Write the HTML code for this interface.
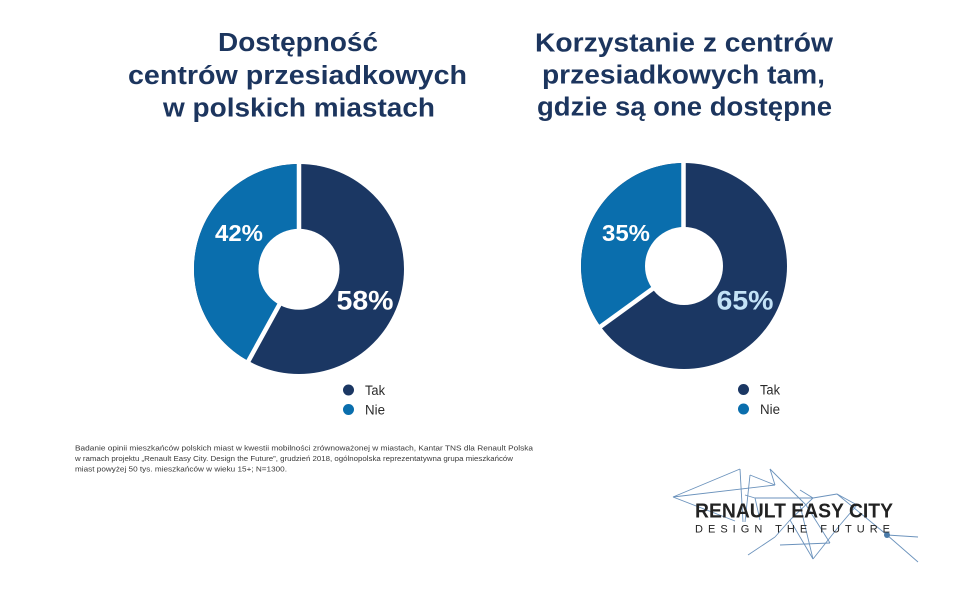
<!DOCTYPE html>
<html>
<head>
<meta charset="utf-8">
<style>
html,body{margin:0;padding:0;background:#ffffff;}
svg{display:block;}
text{font-family:"Liberation Sans","DejaVu Sans",sans-serif;}
</style>
</head>
<body>
<svg width="964" height="596" viewBox="0 0 964 596" xmlns="http://www.w3.org/2000/svg">
<rect width="964" height="596" fill="#ffffff"/>

<!-- Titles -->
<g fill="#1c355e" font-weight="bold" font-size="25.5" text-anchor="middle">
  <text x="298" y="51" textLength="160" lengthAdjust="spacingAndGlyphs">Dostępność</text>
  <text x="297.5" y="84" textLength="339" lengthAdjust="spacingAndGlyphs">centrów przesiadkowych</text>
  <text x="299" y="116.5" textLength="272" lengthAdjust="spacingAndGlyphs">w polskich miastach</text>

  <text x="684" y="51.5" textLength="298" lengthAdjust="spacingAndGlyphs">Korzystanie z centrów</text>
  <text x="683.5" y="83.5" textLength="283" lengthAdjust="spacingAndGlyphs">przesiadkowych tam,</text>
  <text x="684.5" y="115.5" textLength="295" lengthAdjust="spacingAndGlyphs">gdzie są one dostępne</text>
</g>

<!-- Donut 1 -->
<circle cx="299" cy="269" r="105" fill="#1b3763"/>
<path d="M299 269 L248.4 361.0 A105 105 0 0 1 299 164 Z" fill="#0a6ead"/>
<line x1="299" y1="269" x2="299" y2="160" stroke="#ffffff" stroke-width="4.5"/>
<line x1="299" y1="269" x2="246.5" y2="364.5" stroke="#ffffff" stroke-width="4.5"/>
<circle cx="299" cy="269.3" r="40.5" fill="#ffffff"/>
<text x="215" y="241" font-size="23" font-weight="bold" fill="#ffffff" textLength="48" lengthAdjust="spacingAndGlyphs">42%</text>
<text x="336.5" y="309.3" font-size="27" font-weight="bold" fill="#ffffff" textLength="57" lengthAdjust="spacingAndGlyphs">58%</text>

<!-- Donut 2 -->
<circle cx="684" cy="266" r="103" fill="#1b3763"/>
<path d="M684 266 L600.7 326.5 A103 103 0 0 1 684 163 Z" fill="#0a6ead"/>
<line x1="683.5" y1="266" x2="683.5" y2="159" stroke="#ffffff" stroke-width="4.5"/>
<line x1="684" y1="266" x2="597.5" y2="328.8" stroke="#ffffff" stroke-width="4.5"/>
<circle cx="684" cy="266" r="39" fill="#ffffff"/>
<text x="602" y="241" font-size="23" font-weight="bold" fill="#ffffff" textLength="48" lengthAdjust="spacingAndGlyphs">35%</text>
<text x="716.5" y="309.3" font-size="27" font-weight="bold" fill="#c3e2f6" textLength="57" lengthAdjust="spacingAndGlyphs">65%</text>

<!-- Legends -->
<circle cx="348.5" cy="390" r="5.5" fill="#1b3763"/>
<text x="365" y="395" font-size="13.5" fill="#2b2b2b" textLength="20" lengthAdjust="spacingAndGlyphs">Tak</text>
<circle cx="348.5" cy="409.5" r="5.5" fill="#0a6ead"/>
<text x="365" y="414.5" font-size="13.5" fill="#2b2b2b" textLength="20" lengthAdjust="spacingAndGlyphs">Nie</text>

<circle cx="743.5" cy="389.5" r="5.5" fill="#1b3763"/>
<text x="760" y="394.5" font-size="13.5" fill="#2b2b2b" textLength="20" lengthAdjust="spacingAndGlyphs">Tak</text>
<circle cx="743.5" cy="409" r="5.5" fill="#0a6ead"/>
<text x="760" y="414" font-size="13.5" fill="#2b2b2b" textLength="20" lengthAdjust="spacingAndGlyphs">Nie</text>

<!-- Footnote -->
<g font-size="7.6" fill="#3a3a3a">
  <text x="75" y="450.5" textLength="458" lengthAdjust="spacingAndGlyphs">Badanie opinii mieszkańców polskich miast w kwestii mobilności zrównoważonej w miastach, Kantar TNS dla Renault Polska</text>
  <text x="75" y="461" textLength="438" lengthAdjust="spacingAndGlyphs">w ramach projektu „Renault Easy City. Design the Future”, grudzień 2018, ogólnopolska reprezentatywna grupa mieszkańców</text>
  <text x="75" y="471.5" textLength="212" lengthAdjust="spacingAndGlyphs">miast powyżej 50 tys. mieszkańców w wieku 15+; N=1300.</text>
</g>

<!-- Logo network -->
<g stroke="#5b87b5" stroke-width="0.9" fill="none" opacity="0.9">
  <line x1="673" y1="497" x2="740" y2="469"/>
  <line x1="740" y1="469" x2="743" y2="522"/>
  <line x1="673" y1="497" x2="775" y2="485"/>
  <line x1="673" y1="497" x2="735" y2="521"/>
  <line x1="750" y1="475" x2="775" y2="485"/>
  <line x1="770" y1="469" x2="775" y2="485"/>
  <line x1="770" y1="469" x2="806" y2="505"/>
  <line x1="745" y1="495" x2="755" y2="498"/>
  <line x1="755" y1="498" x2="813" y2="498"/>
  <line x1="813" y1="498" x2="837" y2="494"/>
  <line x1="837" y1="494" x2="857" y2="505"/>
  <line x1="837" y1="494" x2="887" y2="535"/>
  <line x1="887" y1="535" x2="918" y2="562"/>
  <line x1="887" y1="535" x2="918" y2="537"/>
  <line x1="748" y1="555" x2="775" y2="537"/>
  <line x1="775" y1="537" x2="790" y2="520"/>
  <line x1="790" y1="520" x2="813" y2="559"/>
  <line x1="813" y1="559" x2="800" y2="505"/>
  <line x1="800" y1="490" x2="813" y2="498"/>
  <line x1="813" y1="498" x2="790" y2="520"/>
  <line x1="857" y1="505" x2="840" y2="525"/>
  <line x1="840" y1="525" x2="813" y2="559"/>
  <line x1="780" y1="545" x2="830" y2="543"/>
  <line x1="750" y1="475" x2="745" y2="522"/>
  <line x1="755" y1="498" x2="760" y2="520"/>
  <line x1="806" y1="505" x2="830" y2="543"/>
</g>
<circle cx="887" cy="535" r="3" fill="#4a7aa8"/>

<!-- Logo text -->
<text x="695" y="517.5" font-size="20.5" font-weight="bold" fill="#222222" textLength="198" lengthAdjust="spacingAndGlyphs">RENAULT EASY CITY</text>
<text x="695" y="532.5" font-size="11" fill="#222222" textLength="195" lengthAdjust="spacing">DESIGN THE FUTURE</text>
</svg>
</body>
</html>
